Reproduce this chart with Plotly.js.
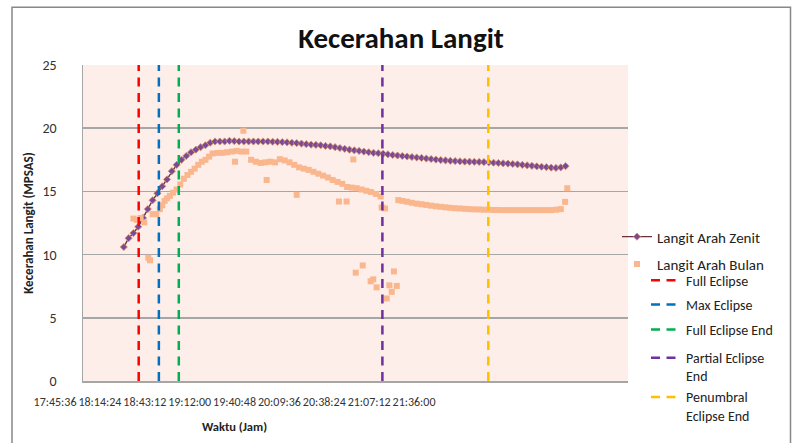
<!DOCTYPE html>
<html>
<head>
<meta charset="utf-8">
<script src="https://cdn.plot.ly/plotly-3.0.1.min.js"></script>
<style>html,body{margin:0;padding:0;background:#fff;}#chart{width:792px;height:443px;}</style>
</head>
<body>
<div id="chart"></div>
<script>
// time values are minutes after 17:00 on the chart's own (plot-area) time scale
const zenitMin = [
  62, 64, 66, 68, 70, 72, 74, 76, 78, 80,
  82, 84, 86, 88, 90, 92, 94, 96, 98, 100,
  102, 104, 106, 108, 110, 112, 114, 116, 118, 120,
  122, 124, 126, 128, 130, 132, 134, 136, 138, 140,
  142, 144, 146, 148, 150, 152, 154, 156, 158, 160,
  162, 164, 166, 168, 170, 172, 174, 176, 178, 180,
  182, 184, 186, 188, 190, 192, 194, 196, 198, 200,
  202, 204, 206, 208, 210, 212, 214, 216, 218, 220,
  222, 224, 226, 228, 230, 232, 234, 236, 238, 240,
  242, 244, 246
];
const zenitVal = [
  10.6, 11.3, 11.7, 12.2, 12.9, 13.6, 14.3, 14.85, 15.4, 15.95,
  16.6, 17.1, 17.5, 17.8, 18.1, 18.3, 18.5, 18.65, 18.85, 18.95,
  18.95, 18.95, 19.0, 18.98, 18.95, 18.95, 18.95, 18.95, 18.95, 18.95,
  18.95, 18.93, 18.92, 18.9, 18.88, 18.85, 18.82, 18.78, 18.74, 18.7,
  18.68, 18.65, 18.6, 18.56, 18.5, 18.43, 18.37, 18.3, 18.25, 18.2,
  18.15, 18.1, 18.05, 18.02, 17.98, 17.93, 17.88, 17.84, 17.8, 17.76,
  17.72, 17.68, 17.65, 17.6, 17.56, 17.52, 17.48, 17.45, 17.42, 17.4,
  17.38, 17.36, 17.35, 17.34, 17.33, 17.32, 17.3, 17.27, 17.25, 17.22,
  17.2, 17.17, 17.14, 17.1, 17.06, 17.02, 16.98, 16.95, 16.92, 16.88,
  16.86, 16.9, 17.0
];
const bulanMin = [
  66, 67.5, 69, 70.5, 72.2, 72.9, 74, 75.5, 77, 78,
  79, 80, 81.2, 82.5, 84, 85.5, 87, 88.5, 90, 91.5,
  93, 94.5, 96, 97.5, 99, 101, 103, 105, 107, 108.3,
  109, 111, 111.8, 113, 115, 117, 119, 121.5, 121, 123,
  125, 127, 129, 131, 133, 134, 135, 137, 139, 141,
  143, 145, 147, 149, 151, 151.6, 153, 154.8, 155, 157,
  157.6, 158.6, 159, 161, 161.5, 163, 164.8, 165, 165.9, 167,
  167.3, 169, 169.4, 170.8, 171.5, 172.6, 173.6, 174.5, 175.7, 176.3,
  178, 180, 182, 184, 186, 188, 190, 192, 194, 196,
  198, 200, 202, 204, 206, 208, 210, 212, 214, 216,
  218, 220, 222, 224, 226, 228, 230, 232, 234, 236,
  238, 240, 242, 244, 245.8, 246.7
];
const bulanVal = [
  12.85, 12.75, 12.9, 12.55, 9.75, 9.55, 13.2, 13.2, 13.6, 13.9,
  14.25, 14.45, 14.65, 14.9, 15.15, 15.55, 16.0, 16.3, 16.55, 16.8,
  17.1, 17.35, 17.5, 17.75, 18.0, 18.05, 18.05, 18.1, 18.15, 17.35,
  18.2, 18.15, 19.8, 18.15, 17.5, 17.35, 17.25, 15.9, 17.3, 17.35,
  17.3, 17.55, 17.45, 17.3, 17.1, 14.73, 16.9, 16.8, 16.7, 16.55,
  16.4, 16.25, 16.1, 15.9, 15.75, 14.2, 15.6, 14.2, 15.35, 15.3,
  17.53, 8.57, 15.25, 15.15, 9.14, 15.05, 7.89, 14.95, 8.04, 14.8,
  7.41, 14.6, 13.73, 13.65, 6.53, 7.57, 7.05, 8.67, 7.52, 14.31,
  14.25, 14.18, 14.1, 14.03, 13.98, 13.93, 13.87, 13.82, 13.78, 13.74,
  13.7, 13.67, 13.65, 13.62, 13.6, 13.58, 13.57, 13.55, 13.55, 13.53,
  13.53, 13.52, 13.52, 13.52, 13.52, 13.52, 13.52, 13.52, 13.52, 13.52,
  13.52, 13.52, 13.55, 13.6, 14.17, 15.25
];
const eventNames = ['Full Eclipse', 'Max Eclipse', 'Full Eclipse End', 'Partial Eclipse<br>End', 'Penumbral<br>Eclipse End'];
const eventMin = [68.2, 76.6, 84.9, 169.7, 213.8];
const eventColors = ['#FF0000', '#0070C0', '#00B050', '#7030A0', '#FFC000'];
const yRange = [0, 25];
const xTickLabels = ['17:45:36', '18:14:24', '18:43:12', '19:12:00', '19:40:48', '20:09:36', '20:38:24', '21:07:12', '21:36:00'];

function clockToMin(s) {
  const p = s.split(':').map(Number);
  return (p[0] - 17) * 60 + p[1] + p[2] / 60;
}
const xTickVals = xTickLabels.map(clockToMin);

const FONT = 'Carlito, "Open Sans", sans-serif';

// pixel helpers for layout positioning
const W = 792, H = 443, ML = 40, MR = 164, MT = 65, MB = 60;
const PW = W - ML - MR, PH = H - MT - MB;
const px = x => (x - ML) / PW;
const py = y => (H - MB - y) / PH;

const traces = [];
traces.push({
  x: zenitMin, y: zenitVal, name: 'Langit Arah Zenit', type: 'scatter', mode: 'lines+markers',
  line: {color: '#6E2F3E', width: 1.4},
  marker: {symbol: 'diamond', size: 5.5, color: '#7B4A95', line: {color: '#D4906A', width: 0.8}},
  legend: 'legend'
});
traces.push({
  x: bulanMin, y: bulanVal, name: 'Langit Arah Bulan', type: 'scatter', mode: 'markers',
  marker: {symbol: 'square', size: 6, color: '#FAB78E'},
  legend: 'legend2'
});
const evLegendY = [282, 306.5, 331.5, 369, 408.5];
eventNames.forEach((n, i) => {
  traces.push({
    x: [eventMin[i], eventMin[i]], y: yRange, name: n, type: 'scatter', mode: 'lines',
    line: {color: eventColors[i], width: 2.5, dash: '9px,6.5px'},
    legend: 'legend' + (i + 3)
  });
});
// carrier for the time tick axis
traces.push({x: [xTickVals[0]], y: [0], xaxis: 'x2', yaxis: 'y2', mode: 'markers',
  marker: {opacity: 0}, showlegend: false, hoverinfo: 'skip'});

const legBase = {bgcolor: 'rgba(0,0,0,0)', borderwidth: 0, xanchor: 'left', yanchor: 'middle',
  font: {family: FONT, size: 14, color: '#222'}, xref: 'paper', yref: 'paper'};

const layout = {
  width: W, height: H,
  margin: {l: ML, r: MR, t: MT, b: MB, pad: 0},
  paper_bgcolor: '#FFFFFF',
  plot_bgcolor: 'rgba(0,0,0,0)',
  title: {text: '<b>Kecerahan Langit</b>', font: {family: FONT, size: 29, color: '#111'},
    xref: 'paper', x: px(401), xanchor: 'center', yref: 'container', y: 1 - 38 / H, yanchor: 'middle'},
  xaxis: {domain: [px(83), 1], range: [45, 272], showticklabels: false, ticks: '', showgrid: false, zeroline: false,
    showline: true, linecolor: '#A6A6A6', linewidth: 1.5, fixedrange: true},
  yaxis: {range: yRange, dtick: 5, tick0: 0, showgrid: true, gridcolor: '#A6A6A6', gridwidth: 1.5,
    zeroline: false, showline: true, linecolor: '#A6A6A6', linewidth: 1.5, ticks: '',
    ticklabelstandoff: 22, tickfont: {family: FONT, size: 14, color: '#333'},
    title: {text: '<b>Kecerahan Langit (MPSAS)</b>', font: {family: FONT, size: 13, color: '#222'}, standoff: 6}},
  xaxis2: {domain: [px(55), px(414)], anchor: 'y2', range: [xTickVals[0], xTickVals[xTickVals.length - 1]],
    tickvals: xTickVals, ticktext: xTickLabels, tickangle: 0, showgrid: false, zeroline: false, showline: false, ticks: '',
    ticklabelstandoff: 12, tickfont: {family: FONT, size: 12, color: '#333'},
    title: {text: '<b>Waktu (Jam)</b>', font: {family: FONT, size: 12.5, color: '#222'}, standoff: 14}},
  yaxis2: {domain: [0, 1], anchor: 'x2', range: [0, 1], visible: false},
  legend: Object.assign({}, legBase, {x: px(617), y: py(238), font: {family: FONT, size: 15, color: '#222'}}),
  legend2: Object.assign({}, legBase, {x: px(617), y: py(265.5), font: {family: FONT, size: 15, color: '#222'}}),
  shapes: [
    {type: 'rect', xref: 'x domain', yref: 'y domain', x0: 0, x1: 1, y0: 0, y1: 1,
      fillcolor: '#FDEEE9', line: {width: 0}, layer: 'below'},
    {type: 'rect', xref: 'paper', yref: 'paper', x0: px(12), x1: px(790.5), y0: py(7), y1: py(450),
      fillcolor: 'rgba(0,0,0,0)', line: {color: '#888888', width: 1.5}, layer: 'above'}
  ],
  showlegend: true
};
eventNames.forEach((n, i) => {
  layout['legend' + (i + 3)] = Object.assign({}, legBase, {x: px(646), y: py(evLegendY[i]),
    valign: i >= 3 ? 'top' : 'middle'});
});

Plotly.newPlot('chart', traces, layout, {displayModeBar: false, staticPlot: true});
</script>
</body>
</html>
